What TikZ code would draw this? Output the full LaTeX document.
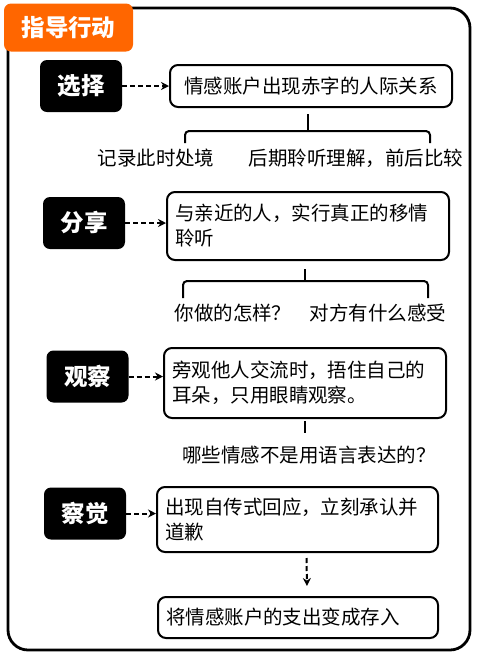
\documentclass[tikz,border=0pt]{standalone}
\usepackage{fontspec}
\setmainfont{Noto Sans CJK SC}
\usepackage{xcolor}
\usetikzlibrary{arrows.meta,positioning}
\definecolor{tagorange}{HTML}{FF6600}
\definecolor{ink}{HTML}{000000}

\begin{document}
\begin{tikzpicture}[
  x=1pt,y=-1pt,
  font=\fontsize{19.5}{25}\selectfont,
  panel/.style={draw=ink,line width=2.8pt,rounded corners=20pt},
  tag/.style={fill=tagorange,rounded corners=7pt,text=white,font=\fontsize{23.5}{27}\selectfont\bfseries,minimum width=129,minimum height=48,inner sep=0pt},
  stepbox/.style={fill=ink,rounded corners=7pt,text=white,font=\fontsize{23.5}{27}\selectfont\bfseries,minimum width=82,minimum height=52,inner sep=0pt},
  note/.style={draw=ink,line width=2pt,rounded corners=8pt,fill=white,align=left,inner xsep=8pt,inner ysep=0pt},
  lbl/.style={inner sep=0pt},
  bracket/.style={draw=ink,line width=2pt,rounded corners=4pt},
  flow/.style={-{Stealth[length=8pt,width=8pt]},draw=ink,line width=2pt,dash pattern=on 5pt off 3pt},
]
\useasboundingbox (0,0) rectangle (479,657);

% --- frame and title
\draw[panel] (8,8) rectangle (470,650);
\node[tag] (title) at (68.5,27.5) {指导行动};

% --- 选择
\node[stepbox] (s1) at (81,86) {选择};
\node[note,text width=266,minimum height=42,align=center] (n1) at (311,86) {情感账户出现赤字的人际关系};
\node[lbl] (l1a) at (156,158) {记录此时处境};
\node[lbl] (l1b) at (356,158) {后期聆听理解，前后比较};

% --- 分享
\node[stepbox] (s2) at (84,223) {分享};
\node[note,text width=266,minimum height=68] (n2) at (308,226) {与亲近的人，实行真正的移情\\聆听};
\node[lbl] (l2a) at (233,313) {你做的怎样？};
\node[lbl] (l2b) at (378,313) {对方有什么感受};

% --- 观察
\node[stepbox] (s3) at (87.5,376.5) {观察};
\node[note,text width=266,minimum height=70] (n3) at (305,383) {旁观他人交流时，捂住自己的\\耳朵，只用眼睛观察。};
\node[lbl] (l3) at (309,455) {哪些情感不是用语言表达的？};

% --- 察觉
\node[stepbox] (s4) at (85,513.5) {察觉};
\node[note,text width=265,minimum height=65] (n4) at (297.5,519.5) {出现自传式回应，立刻承认并\\道歉};
\node[note,text width=264,minimum height=41] (n5) at (298,617.5) {将情感账户的支出变成存入};

% --- connectors
\draw[flow] (s1.east) -- (s1.east -| n1.west);
\draw[flow] (s2.east) -- (s2.east -| n2.west);
\draw[flow] (s3.east) -- (s3.east -| n3.west);
\draw[flow] (s4.east) -- (s4.east -| n4.west);
\draw[flow] ([xshift=9pt,yshift=-5pt]n4.south) -- ([xshift=9pt,yshift=10pt]n5.north);

% braces
\draw[bracket] (n1.south) ++(-126,35) |- ++(123,-12) -| ++(122,12);
\draw[bracket] (n1.south) ++(-3,6) -- ++(0,17);
\draw[bracket] (n2.south) ++(-125,37) |- ++(122,-17) -| ++(123,17);
\draw[bracket] (n2.south) ++(-3,8) -- ++(0,12);
\draw[bracket] (n3.south) ++(0,2) -- ++(0,12);
\end{tikzpicture}
\end{document}
